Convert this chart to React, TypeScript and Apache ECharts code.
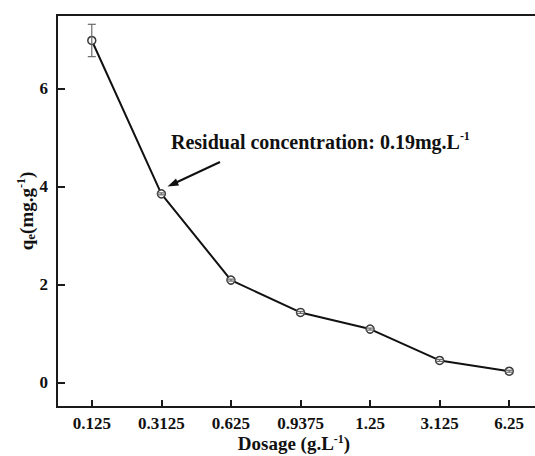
import React, { useEffect, useRef } from "react";
import * as echarts from "echarts";

const categories = ["0.125", "0.3125", "0.625", "0.9375", "1.25", "3.125", "6.25"];
const qeValues = [6.98, 3.85, 2.09, 1.43, 1.09, 0.45, 0.23];
const qeErrors = [0.33, 0.02, 0.02, 0.02, 0.02, 0.02, 0.02];
const yTicks = [0, 2, 4, 6];

const FONT = "'Liberation Serif', 'Times New Roman', serif";

export default function App() {
  const ref = useRef<HTMLDivElement>(null);
  useEffect(() => {
    if (!ref.current) return;
    const chart = echarts.init(ref.current, null, { renderer: "svg" });
    const errData = categories.map((c, i) => [i, qeValues[i] - qeErrors[i], qeValues[i] + qeErrors[i]]);
    chart.setOption({
      animation: false,
      backgroundColor: "#ffffff",
      grid: {
        left: 57,
        top: 15,
        right: -9,
        bottom: 49,
        outerBoundsMode: "none",
        containLabel: false,
        show: true,
        borderColor: "#1a1a1a",
        borderWidth: 2,
      },
      xAxis: {
        type: "category",
        data: categories,
        boundaryGap: true,
        axisLine: { show: true, onZero: false, lineStyle: { color: "#1a1a1a", width: 2 } },
        axisTick: { show: true, inside: true, length: 7, alignWithLabel: true, lineStyle: { color: "#1a1a1a", width: 2 } },
        axisLabel: { color: "#111", fontFamily: FONT, fontWeight: "bold", fontSize: 17, margin: 8 },
        splitLine: { show: false },
        name: "{b|Dosage (g.L}{sup|-1}{b|)}",
        nameLocation: "middle",
        nameMoveOverlap: false,
        nameGap: 26,
        nameTextStyle: {
          padding: [0, 13, 0, 0],
          rich: {
            b: { fontFamily: FONT, fontWeight: "bold", fontSize: 19, color: "#111", lineHeight: 21 },
            sup: { fontFamily: FONT, fontWeight: "bold", fontSize: 12, color: "#111", lineHeight: 12, verticalAlign: "top" },
          },
        },
      },
      yAxis: {
        type: "value",
        min: -0.5,
        max: 7.5,
        axisLine: { show: true, lineStyle: { color: "#1a1a1a", width: 2 } },
        axisTick: { show: true, inside: true, length: 8, customValues: yTicks, lineStyle: { color: "#1a1a1a", width: 2 } },
        axisLabel: { color: "#111", fontFamily: FONT, fontWeight: "bold", fontSize: 17, margin: 9, customValues: yTicks },
        splitLine: { show: false },
        name: "{b|q}{sub|e}{b|(mg.g}{sup|-1}{b|)}",
        nameLocation: "middle",
        nameRotate: 90,
        nameMoveOverlap: false,
        nameGap: 20,
        nameTextStyle: {
          rich: {
            b: { fontFamily: FONT, fontWeight: "bold", fontSize: 19, color: "#111", lineHeight: 22 },
            sub: { fontFamily: FONT, fontWeight: "bold", fontSize: 13, color: "#111", lineHeight: 13, verticalAlign: "bottom" },
            sup: { fontFamily: FONT, fontWeight: "bold", fontSize: 12, color: "#111", lineHeight: 12, verticalAlign: "top" },
          },
        },
      },
      series: [
        {
          type: "line",
          data: qeValues,
          z: 2,
          lineStyle: { color: "#111", width: 2 },
          symbol: "circle",
          symbolSize: 8,
          itemStyle: { color: "#ffffff", borderColor: "#3a3a3a", borderWidth: 1.5 },
        },
        {
          type: "custom",
          z: 5,
          data: errData,
          renderItem: (params: any, api: any) => {
            const x = api.coord([api.value(0), api.value(1)])[0];
            const lo = api.coord([api.value(0), api.value(1)])[1];
            const hi = api.coord([api.value(0), api.value(2)])[1];
            const hw = 4;
            const style = { stroke: "#6a6a6a", lineWidth: 1.2 };
            return {
              type: "group",
              children: [
                { type: "line", shape: { x1: x, y1: lo, x2: x, y2: hi }, style },
                { type: "line", shape: { x1: x - hw, y1: lo, x2: x + hw, y2: lo }, style },
                { type: "line", shape: { x1: x - hw, y1: hi, x2: x + hw, y2: hi }, style },
              ],
            };
          },
        },
      ],
      graphic: [
        {
          type: "text",
          left: 171,
          top: 130,
          style: {
            text: "{b|Residual concentration: 0.19mg.L}{sup|-1}",
            rich: {
              b: { fontFamily: FONT, fontWeight: "bold", fontSize: 20, fill: "#111", lineHeight: 24 },
              sup: { fontFamily: FONT, fontWeight: "bold", fontSize: 12, fill: "#111", lineHeight: 13, verticalAlign: "top" },
            },
          },
        },
        {
          type: "line",
          shape: { x1: 220, y1: 162, x2: 174, y2: 183.5 },
          style: { stroke: "#111", lineWidth: 2 },
        },
        {
          type: "polygon",
          shape: { points: [[167.5, 186.5], [176, 178.5], [179, 185.5]] },
          style: { fill: "#111" },
        },
      ],
    });
    return () => chart.dispose();
  }, []);
  return (
    <div
      ref={ref}
      style={{ position: "fixed", left: 0, top: 0, width: 535, height: 456, background: "#fff" }}
    />
  );
}
